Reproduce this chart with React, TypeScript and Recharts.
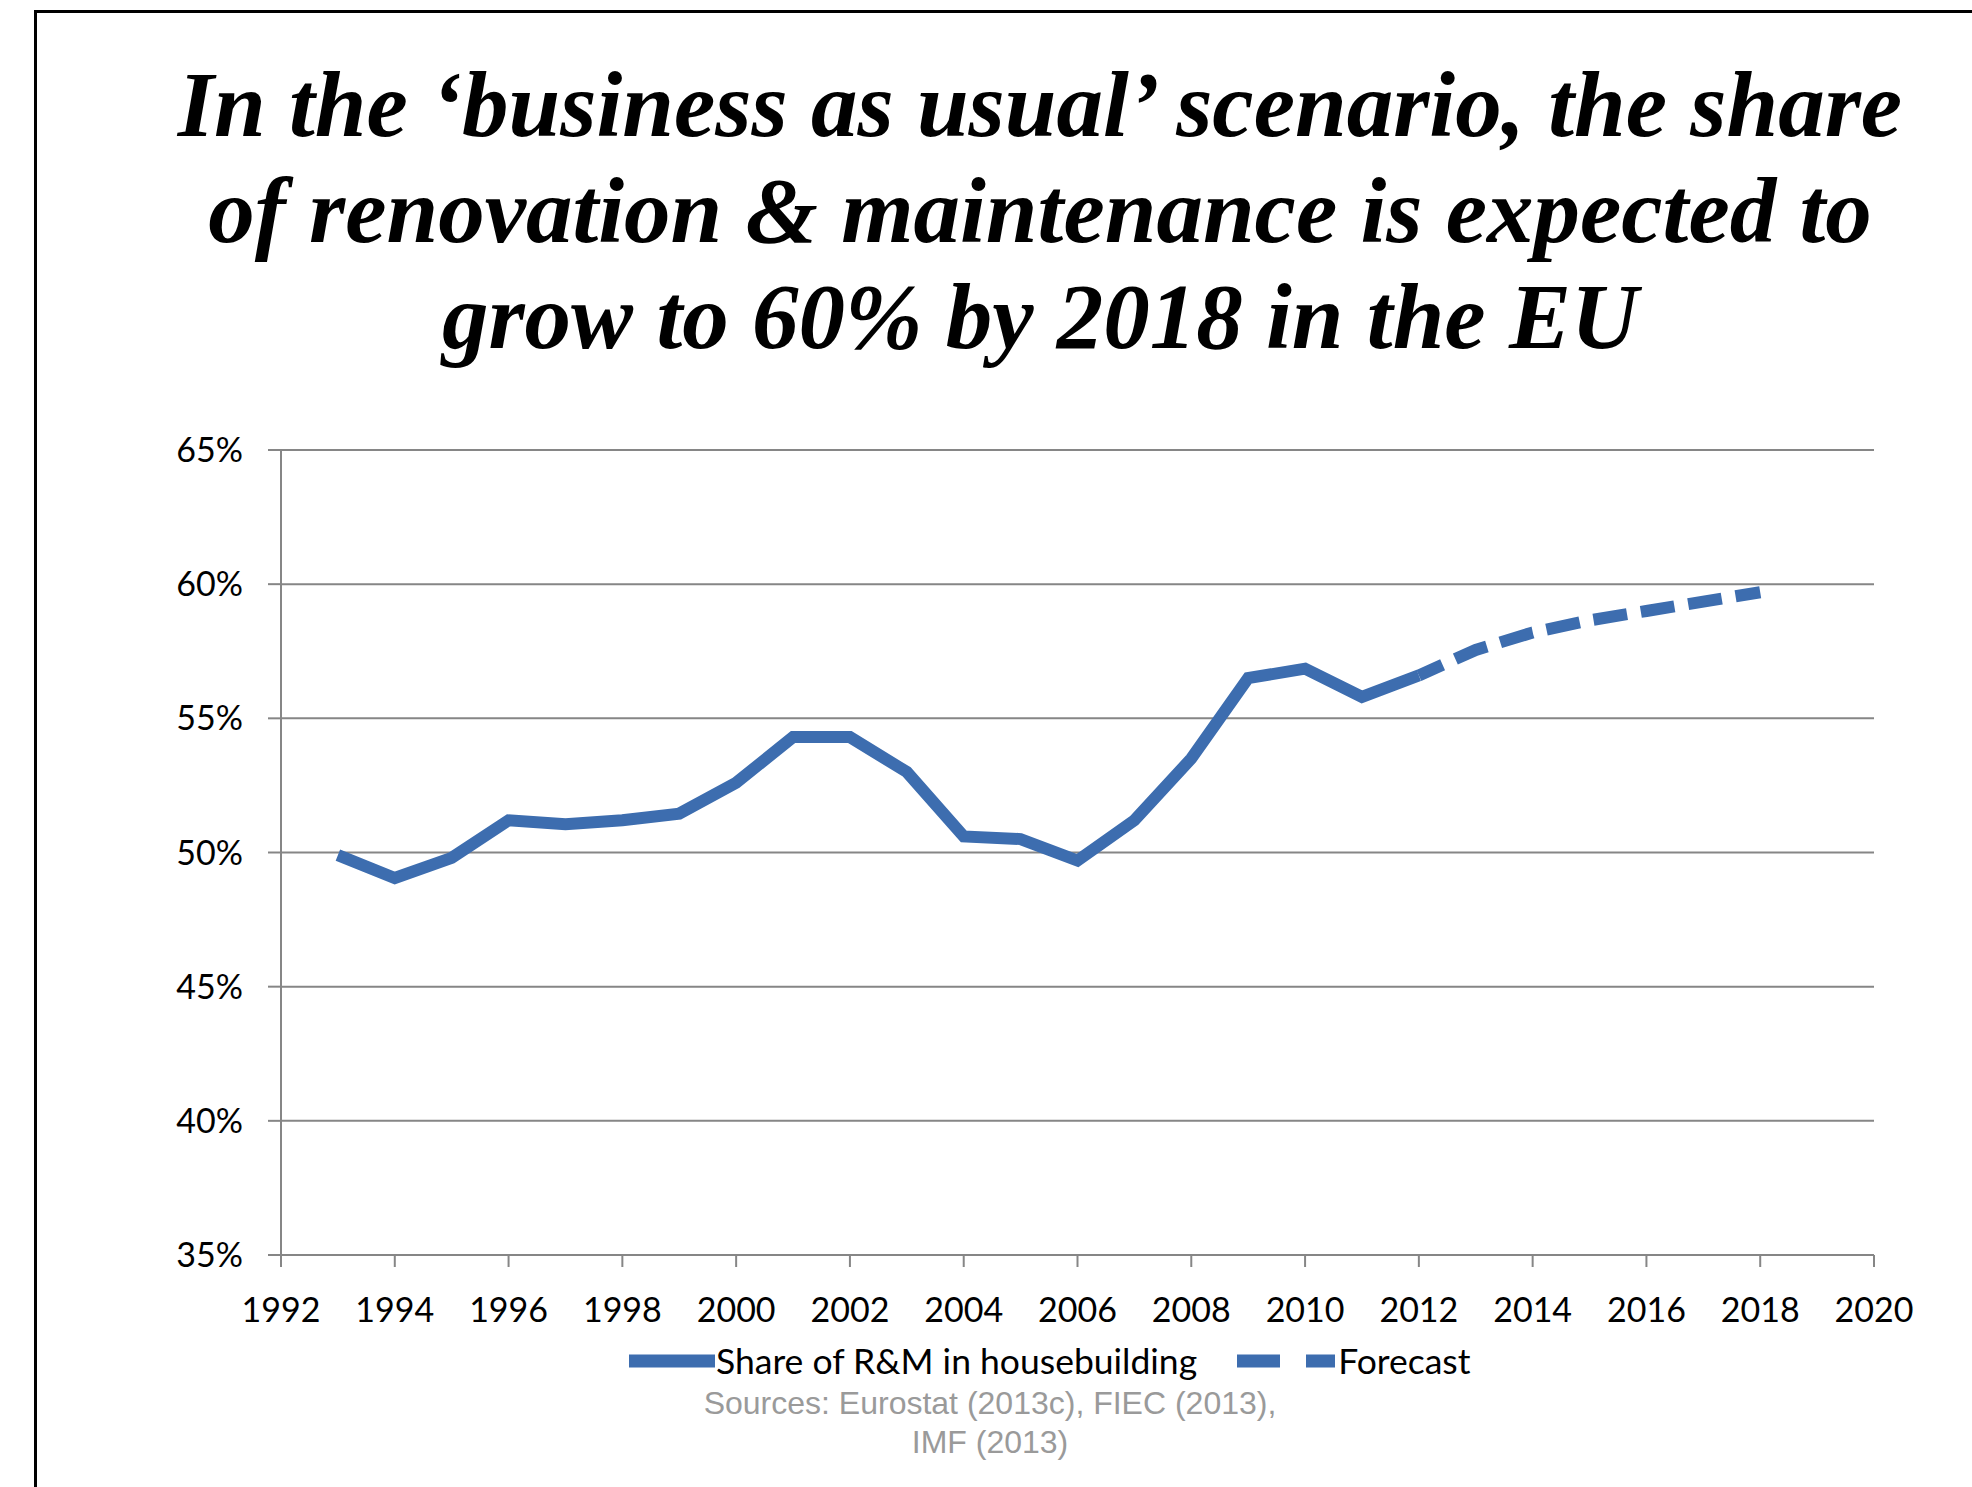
import React from 'react';
import { LineChart, Line, XAxis, YAxis, CartesianGrid, Legend } from 'recharts';

const titleLines = [
  'In the \u2018business as usual\u2019 scenario, the share',
  'of renovation & maintenance is expected to',
  'grow to 60% by 2018 in the EU',
];

const historyYears = [1993, 1994, 1995, 1996, 1997, 1998, 1999, 2000, 2001, 2002, 2003, 2004, 2005, 2006, 2007, 2008, 2009, 2010, 2011, 2012];
const shareRM = [49.9, 49.05, 49.8, 51.2, 51.05, 51.2, 51.45, 52.6, 54.3, 54.3, 53.0, 50.6, 50.5, 49.7, 51.2, 53.5, 56.5, 56.85, 55.8, 56.6];

const forecastYears = [2012, 2013, 2014, 2015, 2016, 2017, 2018];
const forecastValues = [56.6, 57.55, 58.2, 58.65, 59.0, 59.35, 59.7];

const xTicks = [1992, 1994, 1996, 1998, 2000, 2002, 2004, 2006, 2008, 2010, 2012, 2014, 2016, 2018, 2020];
const yTicks = [35, 40, 45, 50, 55, 60, 65];

const shareName = 'Share of R&M in housebuilding';
const forecastName = 'Forecast';
const legendOrder = ['share', 'forecast'];

const sourceLines = ['Sources: Eurostat (2013c), FIEC (2013),', 'IMF (2013)'];

const LINE_COLOR = '#3D6DAF';
const GRID_COLOR = '#868686';
const FONT = 'Lato, "Liberation Sans", sans-serif';

const allYears = Array.from(new Set([...historyYears, ...forecastYears])).sort((a, b) => a - b);
const data = allYears.map((year) => {
  const hi = historyYears.indexOf(year);
  const fi = forecastYears.indexOf(year);
  return {
    year,
    share: hi >= 0 ? shareRM[hi] : null,
    forecast: fi >= 0 ? forecastValues[fi] : null,
  };
});

const renderLegend = (props: any) => {
  const payload = [...(props.payload || [])].sort(
    (a: any, b: any) => legendOrder.indexOf(a.dataKey) - legendOrder.indexOf(b.dataKey)
  );
  return (
    <div style={{ display: 'flex', alignItems: 'center', fontFamily: FONT, fontSize: 35.5, color: '#000', whiteSpace: 'nowrap' }}>
      {payload.map((entry: any, i: number) => {
        const isForecast = entry.dataKey === 'forecast';
        const w = isForecast ? 98 : 86;
        return (
          <div key={i} style={{ display: 'flex', alignItems: 'center', marginRight: isForecast ? 0 : 40 }}>
            <svg width={w} height={20} style={{ display: 'block', marginRight: isForecast ? 3 : 1 }}>
              <line
                x1={0}
                y1={10}
                x2={w}
                y2={10}
                stroke={LINE_COLOR}
                strokeWidth={13}
                strokeDasharray={isForecast ? '43 26' : undefined}
              />
            </svg>
            <span>{entry.value}</span>
          </div>
        );
      })}
    </div>
  );
};

export default function App() {
  return (
    <div style={{ position: 'absolute', left: 0, top: 0, width: 1972, height: 1487, overflow: 'hidden', background: '#fff' }}>
      <div
        style={{
          position: 'absolute',
          left: 34,
          top: 10,
          width: 3000,
          height: 3000,
          borderTop: '3px solid #000',
          borderLeft: '3px solid #000',
        }}
      />
      <div
        style={{
          position: 'absolute',
          left: 0,
          top: 52,
          width: 2080,
          textAlign: 'center',
          fontFamily: '"Liberation Serif", serif',
          fontWeight: 'bold',
          fontStyle: 'italic',
          fontSize: 93,
          lineHeight: '106px',
          color: '#000',
        }}
      >
        {titleLines.map((t, i) => (
          <div key={i}>{t}</div>
        ))}
      </div>
      <div style={{ position: 'absolute', left: 0, top: 0 }}>
        <LineChart width={1972} height={1487} data={data} margin={{ top: 450, right: 98, bottom: 202, left: 181 }}>
          <CartesianGrid vertical={false} stroke={GRID_COLOR} strokeWidth={2} />
          <XAxis
            dataKey="year"
            type="number"
            domain={[1992, 2020]}
            ticks={xTicks}
            interval={0}
            height={30}
            axisLine={{ stroke: GRID_COLOR, strokeWidth: 2 }}
            tickLine={{ stroke: GRID_COLOR, strokeWidth: 2 }}
            tickSize={12}
            tickMargin={31}
            tick={{ fill: '#000', fontSize: 34, fontFamily: FONT }}
          />
          <YAxis
            type="number"
            domain={[35, 65]}
            ticks={yTicks}
            interval={0}
            width={100}
            axisLine={{ stroke: GRID_COLOR, strokeWidth: 2 }}
            tickLine={{ stroke: GRID_COLOR, strokeWidth: 2 }}
            tickSize={13}
            tickMargin={25}
            tickFormatter={(v: number) => `${v}%`}
            tick={{ fill: '#000', fontSize: 34, fontFamily: FONT }}
          />
          <Legend
            layout="horizontal"
            verticalAlign="middle"
            align="center"
            content={renderLegend}
            wrapperStyle={{ position: 'absolute', left: 629, top: 1339, width: 1200, height: 44 }}
          />
          <Line
            dataKey="share"
            name={shareName}
            type="linear"
            stroke={LINE_COLOR}
            strokeWidth={12}
            dot={false}
            activeDot={false}
            connectNulls={false}
            isAnimationActive={false}
          />
          <Line
            dataKey="forecast"
            name={forecastName}
            type="linear"
            stroke={LINE_COLOR}
            strokeWidth={12}
            strokeDasharray="34 14"
            strokeDashoffset={8}
            dot={false}
            activeDot={false}
            connectNulls={false}
            isAnimationActive={false}
          />
        </LineChart>
      </div>
      <div
        style={{
          position: 'absolute',
          left: 590,
          top: 1384,
          width: 800,
          textAlign: 'center',
          fontFamily: '"Liberation Sans Narrow", "Liberation Sans", sans-serif',
          fontSize: 32,
          lineHeight: '39px',
          color: '#9a9a9a',
        }}
      >
        {sourceLines.map((t, i) => (
          <div key={i}>{t}</div>
        ))}
      </div>
    </div>
  );
}
